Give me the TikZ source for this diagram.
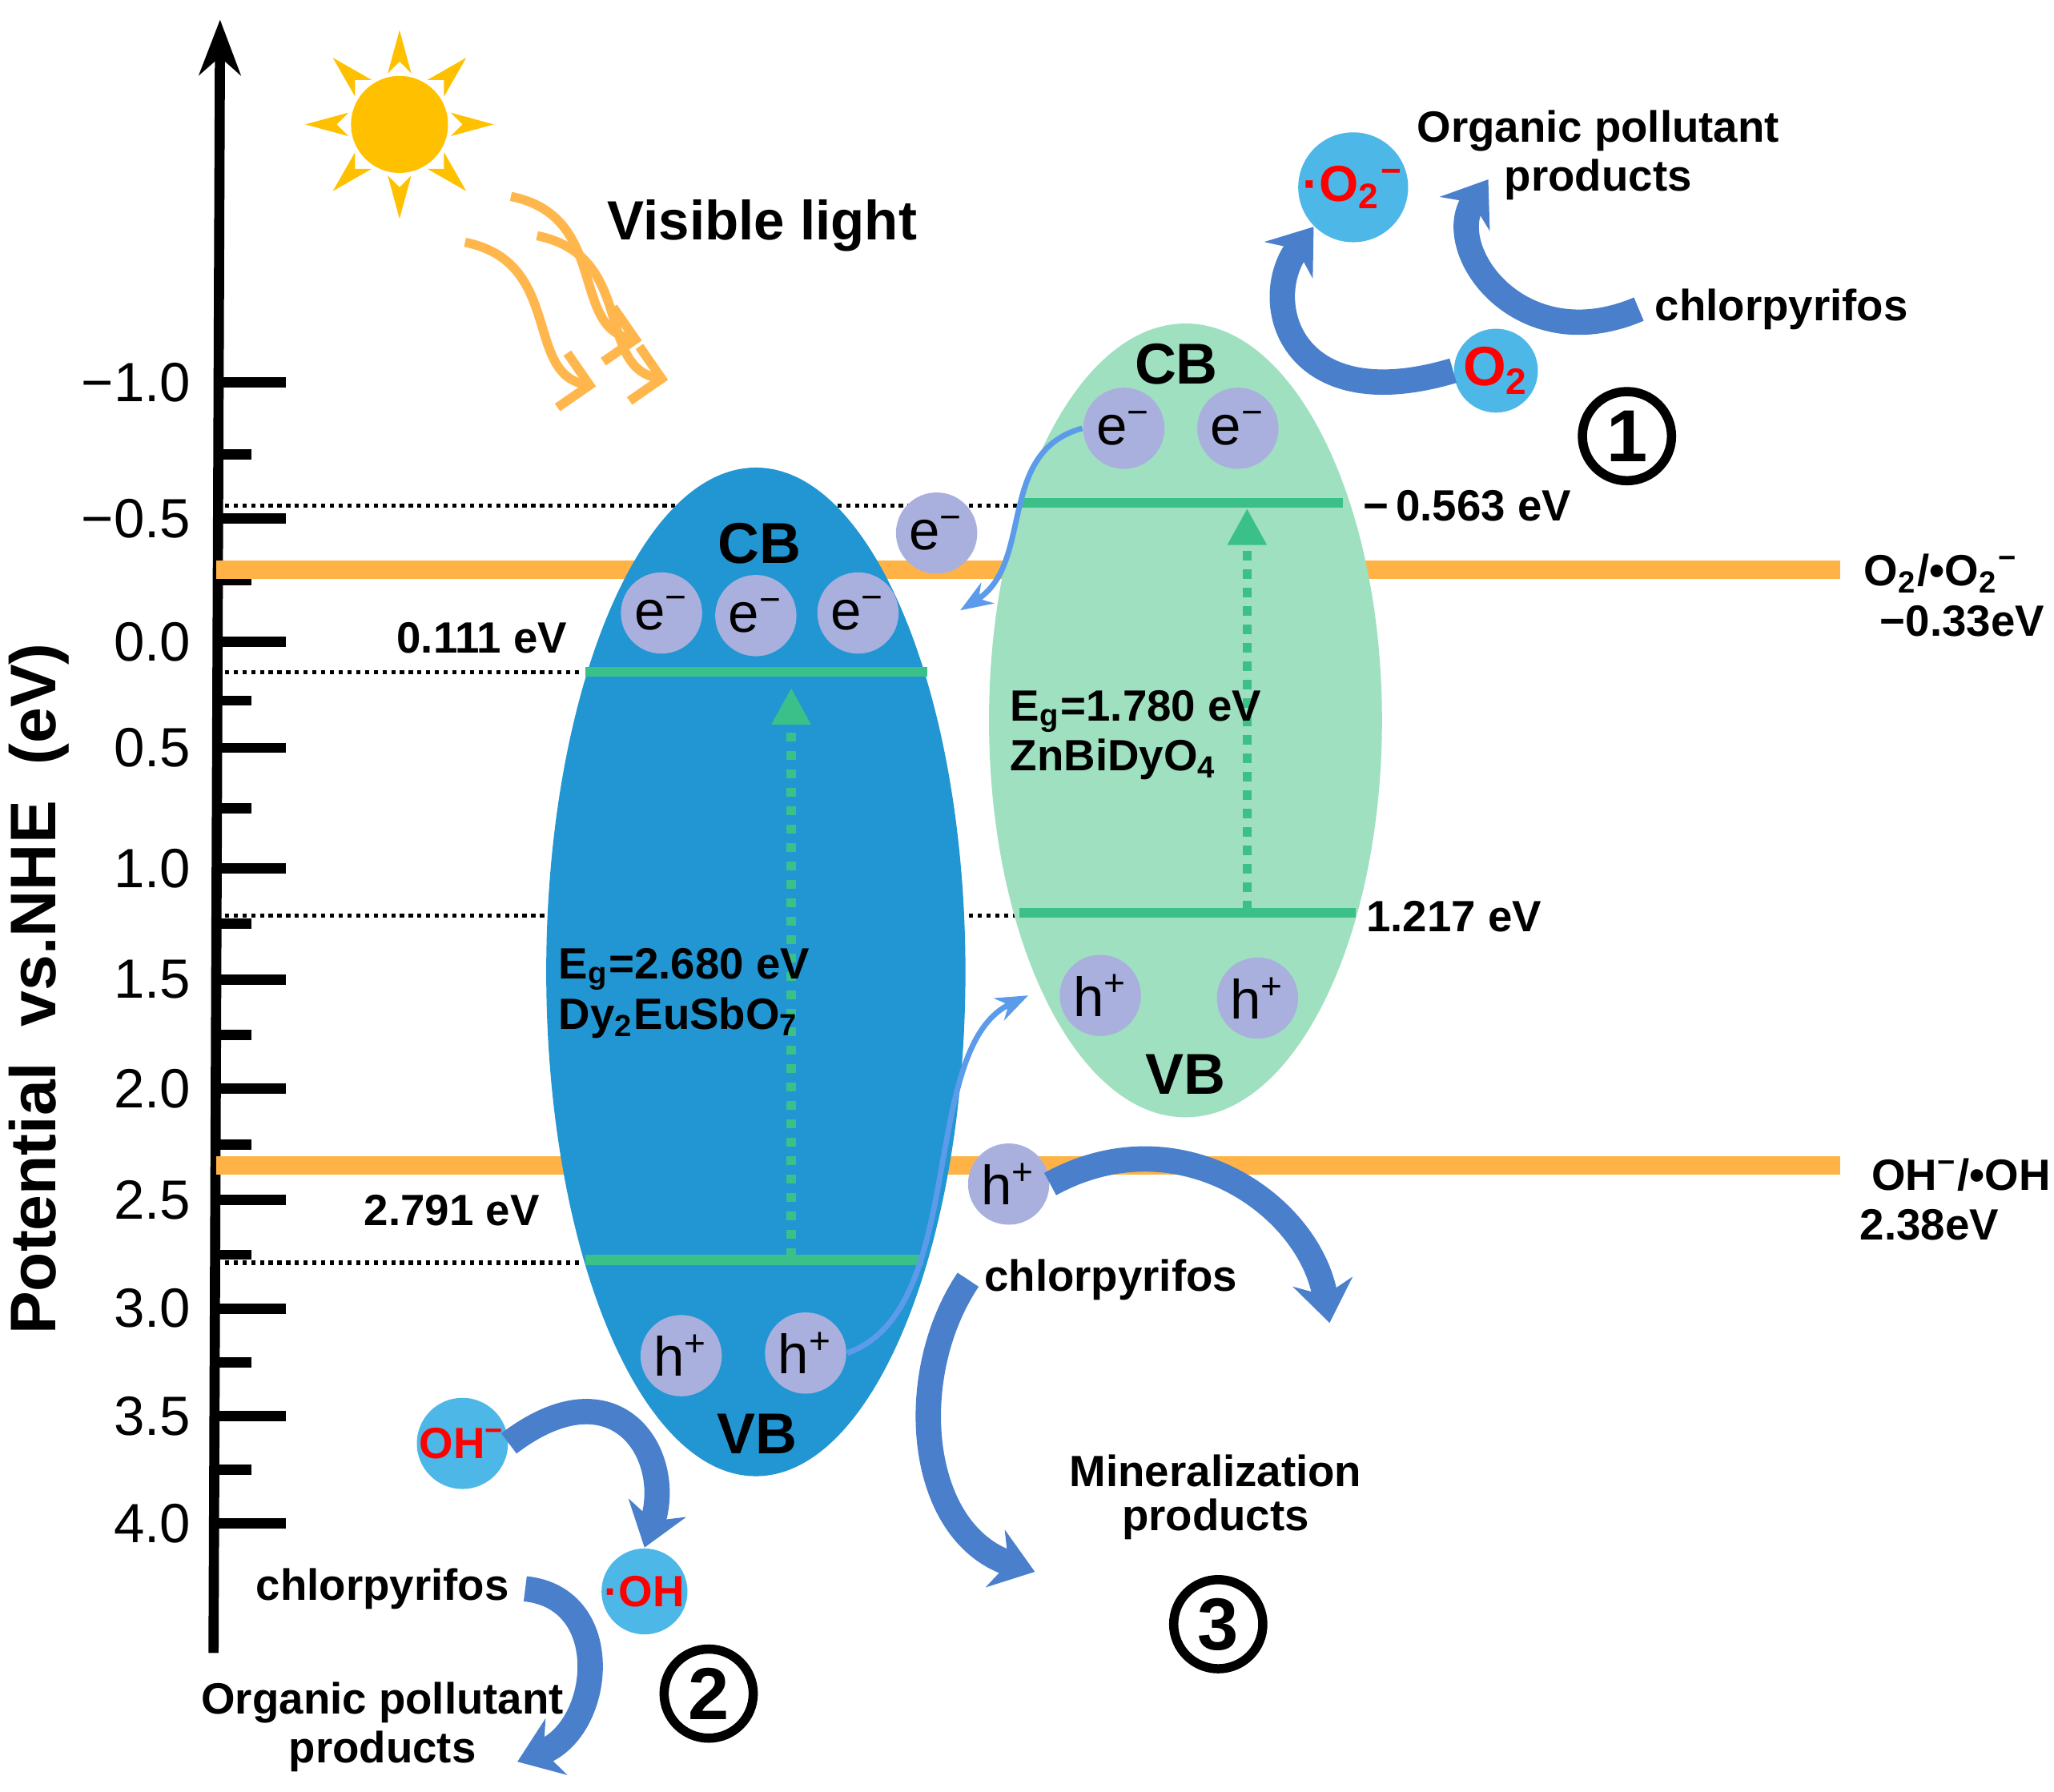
\documentclass[tikz,border=0pt]{standalone}
\usepackage{fontspec}
\setmainfont{Liberation Sans}
\usetikzlibrary{arrows.meta,calc}
\definecolor{sunc}{HTML}{FFC000}
\definecolor{rayc}{HTML}{FFB74D}
\definecolor{bandc}{HTML}{FFB347}
\definecolor{blueov}{HTML}{2196D3}
\definecolor{greenov}{HTML}{9FE0C0}
\definecolor{levc}{HTML}{3CC08A}
\definecolor{carc}{HTML}{AAB0DD}
\definecolor{radc}{HTML}{4DB8E8}
\definecolor{arrc}{HTML}{4A7FCC}
\definecolor{thinc}{HTML}{5B9BEA}
\newcommand{\sub}[1]{\textsubscript{#1}}
\newcommand{\sups}[1]{\textsuperscript{#1}}
\begin{document}
\begin{tikzpicture}[x=0.01cm,y=-0.01cm,font=\fontsize{9.5}{11}\selectfont\bfseries]
      \useasboundingbox (0,0) rectangle (1568,1368);
      \tikzset{C/.style = {shape=circle, fill=carc, minimum size=0.62cm, inner sep=0pt, font=\fontsize{12}{13}\selectfont}}
      \tikzset{R/.style = {shape=circle, fill=radc, minimum size=0.64cm, inner sep=0pt, text=red}}
      \tikzset{N/.style = {shape=circle, draw, line width=2pt, minimum size=0.68cm, inner sep=0pt, font=\fontsize{16}{17}\selectfont\bfseries}}
      \tikzset{A/.style = {draw=arrc, line width=5.5pt, -{Stealth[length=9pt,width=13pt]}}}
      \tikzset{T/.style = {draw=thinc, line width=1.2pt, -{Stealth[length=7pt]}}}
      \tikzset{L/.style = {draw=levc, line width=2.2pt}}
      \tikzset{D/.style = {draw, densely dotted, line width=0.9pt}}
      % axis
      \coordinate (a0) at (163,1262);
      \coordinate (a1) at (168,15);
      \draw[line width=2.2pt,-{Stealth[length=12pt]}] (a0) -- (a1);
      \foreach \y/\t in {292/{\textminus}1.0,396/{\textminus}0.5,490/0.0,571/0.5,663/1.0,748/1.5,831/2.0,916/2.5,999/3.0,1081/3.5,1163/4.0}{
        \draw[line width=2.2pt] (165,\y) -- (218,\y);
        \node[font=\fontsize{12}{13}\selectfont,anchor=east] at (158,\y) {\t};}
      \foreach \y in {347,443,535,617,705,790,874,958,1040,1122}
        \draw[line width=2.2pt] (165,\y) -- (192,\y);
      \node[rotate=90,font=\fontsize{14}{15}\selectfont\bfseries](ylab) at (30,755) {Potential\ \ vs.NHE\ \ (eV)};
      % sun and light
      \node[circle,fill=sunc,minimum size=0.74cm](sun) at (305,95) {};
      \foreach \a in {0,45,...,315}
        \fill[sunc] ($(sun)+(\a:48)$) -- ($(sun)+(\a+13:40)$) -- ($(sun)+(\a:72)$) -- ($(sun)+(\a-13:40)$) -- cycle;
      \foreach \dx/\dy in {0/0,35/-35,55/-5}
        \draw[rayc,line width=2pt,-{Straight Barb[length=6pt]}] (355+\dx,185+\dy) .. controls (430+\dx,200+\dy) and (400+\dx,285+\dy) .. (455+\dx,295+\dy);
      \node(vis) at (582,172) {\fontsize{12}{13}\selectfont Visible light};
      % redox levels
      \draw[bandc,line width=4pt] (165,435) -- (1405,435);
      \draw[bandc,line width=4pt] (165,890) -- (1405,890);
      \node(o2l) at (1482,438) {O\sub{2}/•O\sub{2}\sups{\textminus}};
      \node(o2v) at (1498,474) {\textminus0.33eV};
      \node(ohl) at (1497,897) {OH\sups{\textminus}/•OH};
      \node(ohv) at (1473,935) {2.38eV};
      % semiconductors
      \draw[D] (165,386) -- (790,386);
      \draw[D] (165,513) -- (445,513);
      \draw[D] (165,699) -- (775,699);
      \draw[D] (165,964) -- (445,964);
      \fill[blueov] (577,742) ellipse (160 and 385);
      \fill[greenov] (905,550) ellipse (150 and 303);
      \draw[L] (447,513) -- (708,513);
      \draw[L] (447,962) -- (705,962);
      \draw[L] (778,384) -- (1025,384);
      \draw[L] (778,697) -- (1035,697);
      \draw[levc,line width=2pt,dotted,-{Triangle[length=8pt,width=8pt]}] (604,960) -- (604,525);
      \draw[levc,line width=2pt,dotted,-{Triangle[length=8pt,width=8pt]}] (952,695) -- (952,388);
      \node[font=\fontsize{12.5}{14}\selectfont\bfseries](cb1) at (580,415) {CB};
      \node[font=\fontsize{12.5}{14}\selectfont\bfseries](vb1) at (578,1095) {VB};
      \node[font=\fontsize{12.5}{14}\selectfont\bfseries](cb2) at (898,278) {CB};
      \node[font=\fontsize{12.5}{14}\selectfont\bfseries](vb2) at (905,820) {VB};
      \node(e111) at (368,487) {0.111 eV};
      \node(e2791) at (345,924) {2.791 eV};
      \node(e563) at (1120,386) {\textminus\,0.563 eV};
      \node(e1217) at (1110,700) {1.217 eV};
      \node[anchor=west](eg1) at (414,740) {E\sub{g}=2.680 eV};
      \node[anchor=west](dy) at (414,777) {Dy\sub{2}EuSbO\sub{7}};
      \node[anchor=west](eg2) at (759,543) {E\sub{g}=1.780 eV};
      \node[anchor=west](zn) at (759,580) {ZnBiDyO\sub{4}};
      % carriers
      \node[C](e1) at (505,468) {e\sups{\textminus}};
      \node[C](e2) at (577,470) {e\sups{\textminus}};
      \node[C](e3) at (655,468) {e\sups{\textminus}};
      \node[C](e4) at (715,407) {e\sups{\textminus}};
      \node[C](e5) at (858,327) {e\sups{\textminus}};
      \node[C](e6) at (945,327) {e\sups{\textminus}};
      \node[C](h1) at (520,1035) {h\sups{+}};
      \node[C](h2) at (615,1033) {h\sups{+}};
      \node[C](h3) at (840,760) {h\sups{+}};
      \node[C](h4) at (960,762) {h\sups{+}};
      \node[C](h5) at (770,904) {h\sups{+}};
      \coordinate (t1) at (733,466);
      \coordinate (t2) at (785,760);
      \draw[T] (e5.west) .. controls (760,345) and (790,430) .. (t1);
      \draw[T] (h2.east) .. controls (740,1000) and (700,800) .. (t2);
      % radicals
      \node[R,font=\fontsize{11}{12}\selectfont\bfseries](o2r) at (1033,143) {·O\sub{2}\sups{\textminus}};
      \node[R,font=\fontsize{12}{13}\selectfont\bfseries](o2) at (1142,283) {O\sub{2}};
      \node[R](oh) at (353,1102) {OH\sups{\textminus}};
      \node[R](ohr) at (492,1215) {·OH};
      \node(op1) at (1220,100) {Organic pollutant};
      \node(pr1) at (1220,137) {products};
      \node(ch1) at (1360,236) {chlorpyrifos};
      \node(ch3) at (848,977) {chlorpyrifos};
      \node(mi) at (928,1123) {Mineralization};
      \node(pr3) at (928,1160) {products};
      \node(ch2) at (292,1213) {chlorpyrifos};
      \node(op2) at (292,1300) {Organic pollutant};
      \node(pr2) at (292,1337) {products};
      \node[N](n1) at (1242,333) {1};
      \node[N](n2) at (541,1293) {2};
      \node[N](n3) at (930,1240) {3};
      % reaction arrows
      \draw[A] (o2.west) .. controls (985,320) and (960,230) .. (o2r.south west);
      \draw[A] (ch1.west) .. controls (1160,275) and (1100,190) .. (pr1.west);
      \draw[A] (oh.east) .. controls (470,1040) and (515,1110) .. (ohr.north);
      \draw[A] (ch2.east) .. controls (470,1220) and (460,1320) .. (395,1345);
      \draw[A] (h5.east) .. controls (900,850) and (1000,920) .. (1015,1010);
      \draw[A] (ch3.west) .. controls (690,1050) and (700,1170) .. (790,1200);
\end{tikzpicture}
\end{document}
